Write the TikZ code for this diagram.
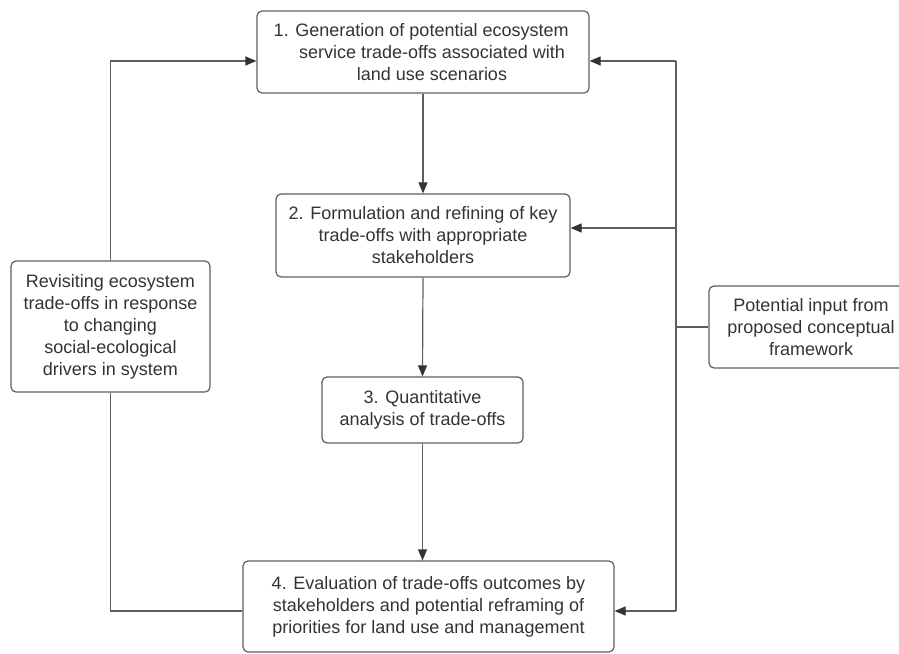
\documentclass[tikz,border=0pt]{standalone}
\usepackage{fontspec}
\setmainfont{Liberation Sans}
\usetikzlibrary{arrows.meta}
\definecolor{stroke}{HTML}{5E5E5E}
\definecolor{txt}{HTML}{333333}
\begin{document}
\begin{tikzpicture}[x=1pt,y=-1pt,
  box/.style={draw=stroke, line width=1.2pt, rounded corners=5pt, inner sep=0pt, text=txt, align=center, font=\fontsize{18}{22}\selectfont},
  label/.style={inner sep=0pt, text=txt, align=center, font=\fontsize{18}{22}\selectfont},
  conn/.style={draw=stroke, line width=1.2pt},
  arr/.style={conn, -{Triangle[length=11pt,width=9pt,color=txt]}}]
\useasboundingbox (0,0) rectangle (899,653);
\clip (0,0) rectangle (899,653);
\node[box, minimum width=332, minimum height=82] (b1) at (423,52) {};
\node[label] (t1) at (432,52) {\llap{1. }Generation of potential ecosystem\\service trade-offs associated with\\land use scenarios};
\node[box, minimum width=294, minimum height=83] (b2) at (423,235.5) {2. Formulation and refining of key\\trade-offs with appropriate\\stakeholders};
\node[box, minimum width=201, minimum height=66] (b3) at (422.5,410) {3. Quantitative\\analysis of trade-offs};
\node[box, minimum width=371, minimum height=91] (b4) at (428.5,606.5) {4. Evaluation of trade-offs outcomes by\\stakeholders and potential reframing of\\priorities for land use and management};
\node[box, minimum width=199, minimum height=131] (lb) at (110.5,326.5) {Revisiting ecosystem\\trade-offs in response\\to changing\\social-ecological\\drivers in system};
\node[box, minimum width=204, minimum height=82] (rb) at (811,327) {Potential input from\\proposed conceptual\\framework};
\coordinate (rt) at (676,61);
\coordinate (rm) at (676,228);
\coordinate (rbt) at (676,611);
\draw[arr] (b1.south) -- (b2.north);
\draw[arr] (b2.south) -- (b3.north);
\draw[arr] (b3.south) -- (b3.south |- b4.north);
\draw[conn] (rt) -- (rbt);
\draw[arr] (rt) -- (rt -| b1.east);
\draw[arr] (rm) -- (rm -| b2.east);
\draw[arr] (rbt) -- (rbt -| b4.east);
\draw[conn] (rb.west) -- (rb.west -| rt);
\draw[arr] (lb.north) |- (rt -| b1.west);
\draw[conn] (lb.south) |- (rbt -| b4.west);
\end{tikzpicture}
\end{document}
